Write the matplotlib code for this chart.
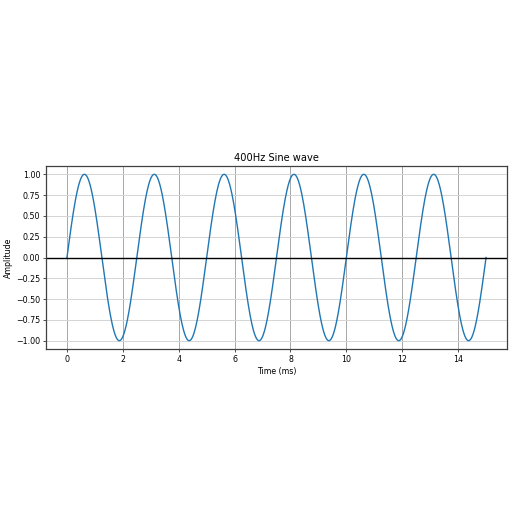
import numpy as np
import matplotlib
matplotlib.use("Agg")
import matplotlib.pyplot as plt

frequency_hz = 400
duration_ms = 15.0
n_samples = 1500
title = "400Hz Sine wave"
xlabel = "Time (ms)"
ylabel = "Amplitude"

t_ms = np.linspace(0, duration_ms, n_samples + 1)
amplitude = np.sin(2 * np.pi * frequency_hz * t_ms / 1000.0)

s = 0.57
fig = plt.figure(figsize=(5.12, 5.12), dpi=100)
W, H = 512, 512
left, right, top, bottom = 46.0, 507.0, 166.0, 349.0
ax = fig.add_axes([left / W, 1 - bottom / H, (right - left) / W, (bottom - top) / H])

ax.plot(t_ms, amplitude, color="#1f77b4", linewidth=1.0)
ax.axhline(0, color="black", linewidth=1.0)
ax.set_xlim(-0.75, 15.75)
ax.set_ylim(-1.1, 1.1)
ax.set_yticks(np.arange(-1.0, 1.01, 0.25))
ax.set_xticks(np.arange(0, 15, 2))
ax.xaxis.grid(True, color="#a8a8a8", linewidth=0.7)
ax.yaxis.grid(True, color="#d4d4d4", linewidth=0.7)
ax.set_axisbelow(True)
ax.tick_params(labelsize=10 * s, length=3.5 * s, width=0.6, pad=3.5 * s, color="#333333")
for sp in ax.spines.values():
    sp.set_linewidth(0.9)
    sp.set_color("#404040")
ax.set_title(title, fontsize=7.1, pad=6 * s)
ax.set_xlabel(xlabel, fontsize=10 * s, labelpad=4 * s)
ax.set_ylabel(ylabel, fontsize=10 * s, labelpad=4 * s)

fig.savefig("out.png", dpi=100)
